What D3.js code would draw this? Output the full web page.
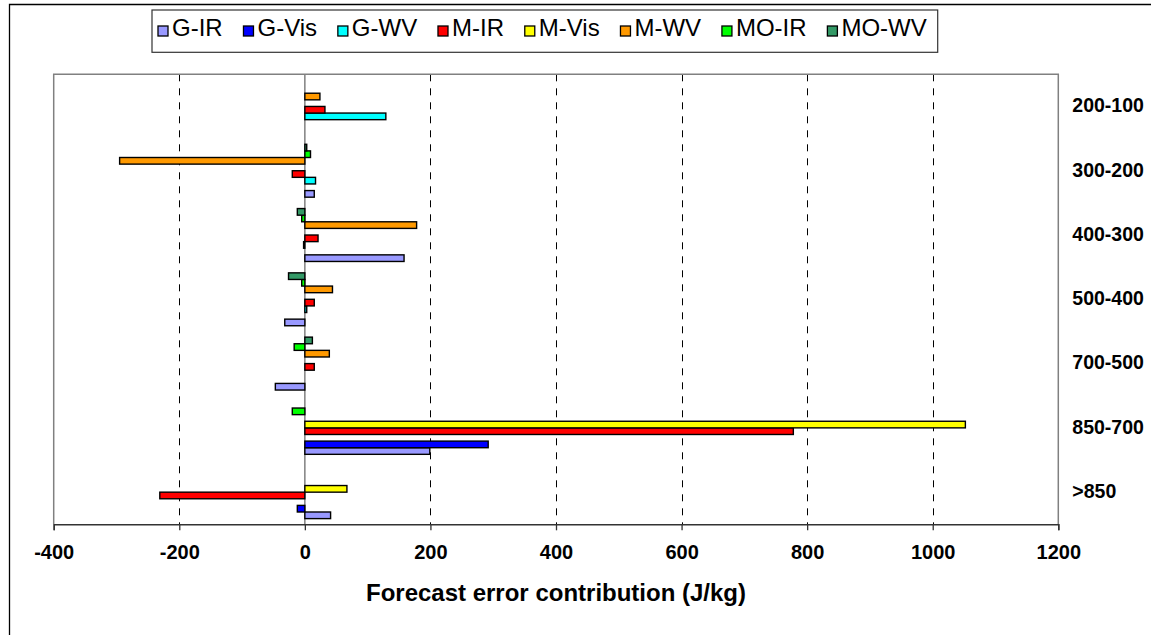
<!DOCTYPE html>
<html>
<head>
<meta charset="utf-8">
<script src="https://cdn.jsdelivr.net/npm/d3@7"></script>
<style>
  html, body { margin: 0; padding: 0; background: #fff; }
  svg { display: block; }
</style>
</head>
<body>
<svg id="chart" width="1151" height="635"></svg>
<script>
// ---- data ----
const categories = ["200-100", "300-200", "400-300", "500-400", "700-500", "850-700", ">850"];
const seriesNames = ["G-IR", "G-Vis", "G-WV", "M-IR", "M-Vis", "M-WV", "MO-IR", "MO-WV"];
const seriesColors = ["#9999FF", "#0000FF", "#00FFFF", "#FF0000", "#FFFF00", "#FF9900", "#00FF00", "#339966"];
const gIR   = [null, 15, 158, -32, -47, 199, 41];
const gVis  = [null, null, null, null, null, 292, -12];
const gWV   = [129, 17, -2, 3, null, null, null];
const mIR   = [32, -20, 21, 15, 15, 778, -231];
const mVis  = [null, null, null, null, null, 1052, 67];
const mWV   = [24, -295, 178, 44, 39, null, null];
const moIR  = [null, 9, -5, -5, -17, -20, null];
const moWV  = [null, 3, -12, -26, 12, null, null];
const xTicks = [-400, -200, 0, 200, 400, 600, 800, 1000, 1200];
const xTitle = "Forecast error contribution (J/kg)";

const seriesValues = [gIR, gVis, gWV, mIR, mVis, mWV, moIR, moWV];

// ---- layout ----
const svg = d3.select("#chart");
const plot = { left: 53.7, right: 1058.3, top: 74.3, bottom: 524.3 };

svg.append("rect").attr("width", 1151).attr("height", 635).attr("fill", "#fff");
// outer chart border (only top/left visible)
svg.append("path").attr("d", "M9.5,635V4.5H1151").attr("fill", "none").attr("stroke", "#000").attr("stroke-width", 1.3);

const x = d3.scaleLinear().domain([-400, 1200]).range([plot.left, plot.right]);
const y = d3.scaleBand().domain(categories).range([plot.top, plot.bottom]).paddingInner(0.177).paddingOuter(0.0885);
// series slots: first series at the bottom of each group
const ySub = d3.scaleBand().domain(seriesNames.slice().reverse()).range([0, y.bandwidth()]).padding(0);

// gridlines
svg.append("g").selectAll("line")
  .data(xTicks.filter(t => t !== -400 && t !== 0 && t !== 1200))
  .join("line")
  .attr("x1", d => Math.round(x(d)) + 0.5).attr("x2", d => Math.round(x(d)) + 0.5)
  .attr("y1", plot.top).attr("y2", plot.bottom)
  .attr("stroke", "#000").attr("stroke-width", 1).attr("stroke-dasharray", "7,7");

// plot border (gray, left/top/right)
svg.append("path")
  .attr("d", `M${plot.left},${plot.bottom}V${plot.top}H${plot.right}V${plot.bottom}`)
  .attr("fill", "none").attr("stroke", "#808080").attr("stroke-width", 1.5);

// zero (category axis) line
svg.append("line")
  .attr("x1", x(0)).attr("x2", x(0)).attr("y1", plot.top).attr("y2", plot.bottom)
  .attr("stroke", "#808080").attr("stroke-width", 1.5);

// bars
const flat = [];
seriesValues.forEach((vals, si) => {
  vals.forEach((v, ci) => {
    if (v !== null) flat.push({ s: seriesNames[si], color: seriesColors[si], cat: categories[ci], v });
  });
});
svg.append("g").selectAll("rect")
  .data(flat)
  .join("rect")
  .attr("x", d => Math.min(x(0), x(d.v)))
  .attr("width", d => Math.abs(x(d.v) - x(0)))
  .attr("y", d => y(d.cat) + ySub(d.s))
  .attr("height", ySub.bandwidth())
  .attr("fill", d => d.color)
  .attr("stroke", "#000").attr("stroke-width", 1.4);

// x axis
const xAxis = d3.axisBottom(x).tickValues(xTicks).tickSize(6).tickPadding(15).tickFormat(d => String(d));
const gx = svg.append("g").attr("transform", `translate(0,${plot.bottom})`).call(xAxis);
gx.select(".domain").attr("stroke", "#333").attr("stroke-width", 1.5);
gx.selectAll(".tick line").attr("stroke", "#333").attr("stroke-width", 1.3);
gx.selectAll(".tick text")
  .attr("font-family", "Liberation Sans, Arial, sans-serif")
  .attr("font-weight", "bold").attr("font-size", "20px").attr("fill", "#000");

// category labels on the right
const yAxis = d3.axisRight(y).tickSize(0).tickPadding(14);
const gy = svg.append("g").attr("transform", `translate(${plot.right},0)`).call(yAxis);
gy.select(".domain").remove();
gy.selectAll(".tick text")
  .attr("font-family", "Liberation Sans, Arial, sans-serif")
  .attr("font-weight", "bold").attr("font-size", "19.5px").attr("fill", "#000")
  .attr("dy", "0.3em");

// axis title
svg.append("text")
  .attr("x", (plot.left + plot.right) / 2).attr("y", 601)
  .attr("text-anchor", "middle")
  .attr("font-family", "Liberation Sans, Arial, sans-serif")
  .attr("font-weight", "bold").attr("font-size", "24px")
  .text(xTitle);

// legend
const lg = { left: 152, right: 937.7, top: 10, bottom: 52.3, padL: 6, padR: 11 };
svg.append("rect")
  .attr("x", lg.left).attr("y", lg.top)
  .attr("width", lg.right - lg.left).attr("height", lg.bottom - lg.top)
  .attr("fill", "#fff").attr("stroke", "#333").attr("stroke-width", 1.2);
const legendG = svg.append("g");
const items = seriesNames.map((name, i) => {
  const g = legendG.append("g");
  g.append("rect").attr("x", 0).attr("y", -10).attr("width", 10).attr("height", 10)
    .attr("fill", seriesColors[i]).attr("stroke", "#000").attr("stroke-width", 1.3);
  const t = g.append("text").attr("x", 14).attr("y", 0)
    .attr("font-family", "Liberation Sans, Arial, sans-serif").attr("font-size", "24px").attr("fill", "#000")
    .text(name);
  return { g, w: 14 + t.node().getComputedTextLength() };
});
const totalW = d3.sum(items, d => d.w);
const gap = ((lg.right - lg.left) - lg.padL - lg.padR - totalW) / (items.length - 1);
let cx = lg.left + lg.padL;
items.forEach(it => {
  it.g.attr("transform", `translate(${cx},36)`);
  cx += it.w + gap;
});
</script>
</body>
</html>
